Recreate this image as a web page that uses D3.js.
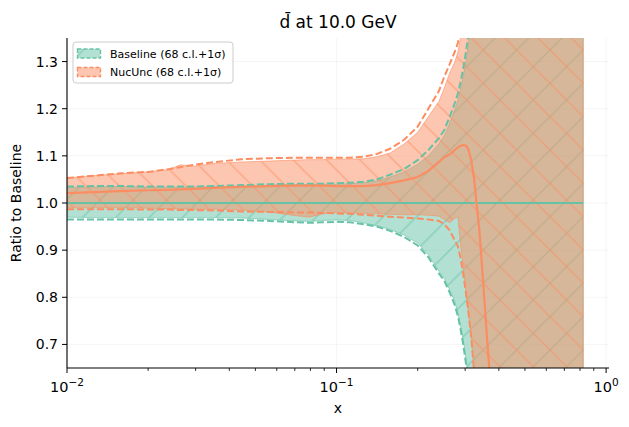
<!DOCTYPE html>
<html><head><meta charset="utf-8">
<script src="https://cdn.jsdelivr.net/npm/d3@7"></script>
<style>body{margin:0;background:#fff} svg{display:block} text{font-family:"DejaVu Sans",sans-serif;fill:#000}</style>
</head><body><div id="chart"></div>
<script>
// ---- data ----
const xValues = [0.0100,0.0126,0.0158,0.0200,0.0240,0.0263,0.0295,0.0355,0.0447,0.0562,0.0708,0.0794,0.0891,0.100,0.112,0.126,0.141,0.158,0.178,0.200,0.219,0.240,0.251,0.263,0.275,0.282,0.288,0.295,0.302,0.309,0.316,0.324,0.331,0.339,0.347,0.355,0.363,0.372,0.380,0.398,0.501,0.631,0.822];
const baselineCentral = [1,1,1,1,1,1,1,1,1,1,1,1,1,1,1,1,1,1,1,1,1,1,1,1,1,1,1,1,1,1,1,1,1,1,1,1,1,1,1,1,1,1,1];
const baselineSigmaHigh = [1.033,1.034,1.035,1.034,1.034,1.034,1.034,1.035,1.036,1.038,1.039,1.039,1.040,1.040,1.041,1.043,1.047,1.055,1.066,1.082,1.100,1.126,1.143,1.170,1.200,1.218,1.240,1.270,1.300,1.340,1.400,1.480,1.600,1.750,1.900,2.000,2.200,2.400,2.600,3.000,4.000,5.000,6.000];
const baselineSigmaLow = [0.970,0.969,0.969,0.969,0.969,0.969,0.969,0.969,0.968,0.965,0.962,0.961,0.963,0.964,0.963,0.958,0.952,0.944,0.932,0.915,0.890,0.855,0.840,0.815,0.790,0.765,0.740,0.710,0.670,0.620,0.570,0.500,0.400,0.300,0.200,0.100,0.000,-0.100,-0.200,-0.500,-1.500,-2.500,-3.500];
const baselineCLHigh = [1.035,1.036,1.036,1.035,1.035,1.035,1.035,1.036,1.038,1.040,1.041,1.041,1.041,1.042,1.043,1.045,1.050,1.060,1.072,1.091,1.112,1.138,1.155,1.183,1.213,1.232,1.255,1.285,1.320,1.360,1.420,1.500,1.620,1.780,1.950,2.050,2.250,2.450,2.650,3.050,4.050,5.050,6.050];
const baselineCLLow = [0.965,0.965,0.965,0.965,0.965,0.965,0.965,0.965,0.964,0.962,0.959,0.958,0.959,0.960,0.959,0.955,0.950,0.941,0.928,0.910,0.885,0.850,0.835,0.810,0.782,0.760,0.735,0.700,0.660,0.610,0.560,0.490,0.390,0.290,0.190,0.090,-0.010,-0.110,-0.210,-0.510,-1.510,-2.510,-3.510];
const nucCentral = [1.021,1.023,1.025,1.027,1.028,1.029,1.030,1.032,1.034,1.036,1.037,1.037,1.037,1.036,1.036,1.036,1.038,1.042,1.048,1.055,1.068,1.087,1.097,1.103,1.113,1.118,1.121,1.123,1.122,1.112,1.090,1.050,0.995,0.940,0.860,0.780,0.700,0.620,0.550,0.400,-0.200,-0.500,-0.800];
const nucSigmaHigh = [1.053,1.058,1.062,1.066,1.071,1.081,1.078,1.084,1.087,1.089,1.091,1.092,1.092,1.093,1.093,1.094,1.098,1.106,1.125,1.150,1.183,1.216,1.244,1.276,1.300,1.320,1.350,1.400,1.460,1.530,1.620,1.750,1.900,2.050,2.200,2.350,2.500,2.650,2.800,3.100,4.100,5.100,6.100];
const nucSigmaLow = [0.990,0.990,0.990,0.989,0.988,0.988,0.987,0.987,0.985,0.981,0.973,0.970,0.977,0.980,0.979,0.978,0.977,0.976,0.975,0.975,0.974,0.972,0.965,0.958,0.968,0.970,0.915,0.865,0.810,0.765,0.715,0.640,0.560,0.480,0.380,0.280,0.180,0.080,-0.020,-0.200,-1.200,-2.200,-3.200];
const nucCLHigh = [1.053,1.058,1.063,1.066,1.072,1.076,1.081,1.087,1.093,1.095,1.096,1.096,1.096,1.096,1.096,1.098,1.104,1.115,1.134,1.162,1.200,1.238,1.268,1.295,1.322,1.340,1.370,1.420,1.490,1.560,1.650,1.780,1.930,2.080,2.230,2.380,2.530,2.680,2.830,3.130,4.130,5.130,6.130];
const nucCLLow = [0.987,0.987,0.987,0.986,0.986,0.985,0.985,0.984,0.982,0.981,0.980,0.980,0.979,0.978,0.977,0.975,0.973,0.971,0.969,0.967,0.965,0.962,0.955,0.942,0.920,0.908,0.885,0.850,0.810,0.765,0.715,0.640,0.560,0.470,0.370,0.270,0.170,0.070,-0.030,-0.210,-1.210,-2.210,-3.210];

const xMajorExponents = [-2, -1, 0];
const yTickValues = [0.7, 0.8, 0.9, 1.0, 1.1, 1.2, 1.3];
const seriesNames = ["Baseline (68 c.l.+1σ)", "NucUnc (68 c.l.+1σ)"];
const titleText = "d\u0304 at 10.0 GeV";
const xLabelText = "x";
const yLabelText = "Ratio to Baseline";

// ---- layout ----
const W = 629, H = 427;
const L = 67, R = 609, T = 38, B = 368;
const green = "#66c2a5", orange = "#fc8d62";

const x = d3.scaleLog().domain([0.01, 1.025]).range([L, R]);
const y = d3.scaleLinear().domain([0.65, 1.35]).range([B, T]);

const svg = d3.select("#chart").append("svg").attr("width", W).attr("height", H);
const defs = svg.append("defs");
defs.append("clipPath").attr("id", "clip").append("rect")
  .attr("x", L).attr("y", T).attr("width", R - L).attr("height", B - T);

const hs = 33.33;
function hatch(id, color, dir) {
  const p = defs.append("pattern").attr("id", id).attr("patternUnits", "userSpaceOnUse")
    .attr("width", hs).attr("height", hs);
  const d = dir === "/" ?
    `M0,${hs} L${hs},0 M-8,8 L8,-8 M${hs-8},${hs+8} L${hs+8},${hs-8}` :
    `M0,0 L${hs},${hs} M-8,${hs-8} L8,${hs+8} M${hs-8},-8 L${hs+8},8`;
  p.append("path").attr("d", d).attr("stroke", color).attr("stroke-opacity", 0.6)
    .attr("stroke-width", 1.3).attr("fill", "none");
}
hatch("hatchG", green, "/");
hatch("hatchO", orange, "\\");

// grid
const grid = svg.append("g");
yTickValues.forEach(v => grid.append("line").attr("x1", L).attr("x2", R)
  .attr("y1", y(v)).attr("y2", y(v)).attr("stroke", "#b0b0b0").attr("stroke-opacity", 0.12));
xMajorExponents.forEach(e => grid.append("line").attr("x1", x(Math.pow(10, e))).attr("x2", x(Math.pow(10, e)))
  .attr("y1", T).attr("y2", B).attr("stroke", "#b0b0b0").attr("stroke-opacity", 0.12));

const plot = svg.append("g").attr("clip-path", "url(#clip)");

function rows(lo, hi) { return xValues.map((xv, i) => ({ x: xv, lo: lo[i], hi: hi[i] })); }
const area = d3.area().x(d => x(d.x)).y0(d => y(d.lo)).y1(d => y(d.hi));
const line = d3.line().x((d, i) => x(xValues[i])).y(d => y(d));

function band(lo, hi, color, hatchId) {
  const data = rows(lo, hi);
  plot.append("path").attr("d", area(data)).attr("fill", color).attr("fill-opacity", 0.5)
    .attr("stroke", color).attr("stroke-opacity", 0.6).attr("stroke-width", 1);
  plot.append("path").attr("d", area(data)).attr("fill", `url(#${hatchId})`).attr("stroke", "none");
}
band(baselineSigmaLow, baselineSigmaHigh, green, "hatchG");
band(nucSigmaLow, nucSigmaHigh, orange, "hatchO");

function dashed(vals, color) {
  plot.append("path").attr("d", line(vals)).attr("fill", "none").attr("stroke", color)
    .attr("stroke-width", 2).attr("stroke-dasharray", "7,3");
}
dashed(baselineCLHigh, green); dashed(baselineCLLow, green);
dashed(nucCLHigh, orange); dashed(nucCLLow, orange);

plot.append("path").attr("d", line(baselineCentral)).attr("fill", "none").attr("stroke", green).attr("stroke-width", 2.2);
plot.append("path").attr("d", line(nucCentral)).attr("fill", "none").attr("stroke", orange).attr("stroke-width", 2.2);

// axes
const ax = svg.append("g");
ax.append("line").attr("x1", L).attr("x2", L).attr("y1", T).attr("y2", B).attr("stroke", "#000").attr("stroke-width", 1.1);
ax.append("line").attr("x1", L).attr("x2", R).attr("y1", B).attr("y2", B).attr("stroke", "#000").attr("stroke-width", 1.1);

yTickValues.forEach(v => {
  ax.append("line").attr("x1", L - 5).attr("x2", L).attr("y1", y(v)).attr("y2", y(v)).attr("stroke", "#000");
  ax.append("text").attr("x", L - 9).attr("y", y(v) + 5).attr("text-anchor", "end")
    .attr("font-size", 14).text(d3.format(".1f")(v));
});

const minor = [];
[0.01, 0.1].forEach(base => { for (let k = 2; k <= 9; k++) minor.push(base * k); });
minor.filter(v => x(v) <= R).forEach(v => ax.append("line").attr("x1", x(v)).attr("x2", x(v))
  .attr("y1", B).attr("y2", B + 3).attr("stroke", "#000").attr("stroke-width", 0.8));
xMajorExponents.forEach(e => {
  const px = x(Math.pow(10, e));
  ax.append("line").attr("x1", px).attr("x2", px).attr("y1", B).attr("y2", B + 5).attr("stroke", "#000");
  const t = ax.append("text").attr("x", px).attr("y", B + 24).attr("text-anchor", "middle").attr("font-size", 14.5);
  t.append("tspan").text("10");
  t.append("tspan").attr("dy", -6).attr("font-size", 10.5).text(e === 0 ? "0" : "\u2212" + Math.abs(e));
});

svg.append("text").attr("x", (L + R) / 2).attr("y", 413).attr("text-anchor", "middle").attr("font-size", 14).text(xLabelText);
svg.append("text").attr("transform", `translate(21,${(T + B) / 2}) rotate(-90)`).attr("text-anchor", "middle")
  .attr("font-size", 14).text(yLabelText);
svg.append("text").attr("x", (L + R) / 2).attr("y", 28).attr("text-anchor", "middle").attr("font-size", 17).text(titleText);

// legend
const lg = svg.append("g");
lg.append("rect").attr("x", 73).attr("y", 42).attr("width", 160).attr("height", 41).attr("rx", 3)
  .attr("fill", "#fff").attr("fill-opacity", 0.8).attr("stroke", "#cccccc").attr("stroke-width", 1);
[[green, "hatchG"], [orange, "hatchO"]].forEach(([c, h], i) => {
  const yy = 49 + i * 18.5;
  lg.append("rect").attr("x", 77.5).attr("y", yy).attr("width", 23).attr("height", 9)
    .attr("fill", c).attr("fill-opacity", 0.5);
  lg.append("rect").attr("x", 77.5).attr("y", yy).attr("width", 23).attr("height", 9)
    .attr("fill", `url(#${h})`).attr("stroke", c).attr("stroke-width", 1.4).attr("stroke-dasharray", "4,2");
  lg.append("text").attr("x", 110).attr("y", yy + 8.5).attr("font-size", 11).text(seriesNames[i]);
});
</script></body></html>
